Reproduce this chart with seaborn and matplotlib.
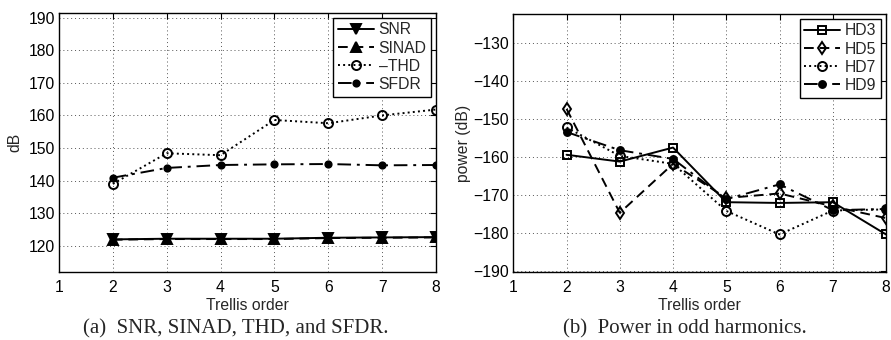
import matplotlib
matplotlib.use("Agg")
import matplotlib.pyplot as plt
import seaborn as sns

# Trellis orders
orders = [2, 3, 4, 5, 6, 7, 8]

# (a) dB metrics
snr = [122.0, 122.2, 122.2, 122.2, 122.5, 122.6, 122.7]
sinad = [121.9, 122.1, 122.1, 122.1, 122.4, 122.5, 122.6]
thd = [139.0, 148.4, 147.8, 158.6, 157.6, 160.0, 161.8]
sfdr = [140.9, 143.9, 144.8, 145.0, 145.1, 144.7, 144.8]

# (b) odd harmonic power
hd3 = [-159.4, -161.2, -157.5, -171.9, -172.1, -171.9, -180.4]
hd5 = [-147.3, -174.7, -161.8, -170.8, -169.6, -173.0, -176.1]
hd7 = [-152.2, -159.7, -161.8, -174.2, -180.4, -174.1, -173.8]
hd9 = [-153.4, -158.2, -160.5, -171.1, -167.2, -174.0, -173.7]

left_ticks = [120, 130, 140, 150, 160, 170, 180, 190]
right_ticks = [-190, -180, -170, -160, -150, -140, -130]
x_ticks = [1, 2, 3, 4, 5, 6, 7, 8]

sns.set_style("white")
plt.rcParams['font.family'] = ['Liberation Sans', 'DejaVu Sans']

FS = 11.3

fig = plt.figure(figsize=(8.91, 3.4), dpi=100)
ax1 = fig.add_axes([0.0662, 0.2, 0.4231, 0.7618])
ax2 = fig.add_axes([0.5761, 0.2, 0.4183, 0.7588])


def draw(ax, y, label, ls, marker, ms, filled):
    sns.lineplot(x=orders, y=y, ax=ax, color='k', linestyle=ls, linewidth=1.4,
                 marker=marker, markersize=ms,
                 markerfacecolor='k' if filled else 'none',
                 markeredgecolor='k', markeredgewidth=1.4, label=label)


draw(ax1, snr, 'SNR', '-', 'v', 6.5, True)
draw(ax1, sinad, 'SINAD', (0, (5, 3)), '^', 6.5, True)
draw(ax1, thd, '\u2013THD', ':', 'o', 6.5, False)
draw(ax1, sfdr, 'SFDR', (0, (7, 3, 1.5, 3)), 'o', 4.5, True)

draw(ax2, hd3, 'HD3', '-', 's', 5.5, False)
draw(ax2, hd5, 'HD5', (0, (5, 3)), 'd', 6.5, False)
draw(ax2, hd7, 'HD7', ':', 'o', 6.5, False)
draw(ax2, hd9, 'HD9', (0, (7, 3, 1.5, 3)), 'o', 5, True)

ax1.set_ylim(112, 191.4)
ax1.set_yticks(left_ticks)
ax1.set_ylabel('dB', fontsize=FS, labelpad=4)
ax2.set_ylim(-190.3, -122.3)
ax2.set_yticks(right_ticks)
ax2.set_yticklabels(['\u2212' + str(abs(t)) for t in right_ticks])
ax2.set_ylabel('power (dB)', fontsize=FS, labelpad=2)

for ax in (ax1, ax2):
    ax.set_xlim(1, 8)
    ax.set_xticks(x_ticks)
    ax.set_xlabel('Trellis order', fontsize=FS, labelpad=2)
    ax.grid(True, linestyle=(0, (1, 3)), color='#555555', linewidth=0.7)
    ax.tick_params(direction='in', length=4, width=0.8, labelsize=FS,
                   top=True, right=True, colors='k', pad=3)
    ax.tick_params(axis='x', pad=6)
    for s in ax.spines.values():
        s.set_color('k')
        s.set_linewidth(1.0)
    leg = ax.legend(loc='upper right', fontsize=FS, frameon=True, fancybox=False,
                    edgecolor='k', framealpha=1, borderaxespad=0.3,
                    handlelength=2.3, handletextpad=0.3, labelspacing=0.2,
                    borderpad=0.3)
    leg.get_frame().set_linewidth(1.0)

fig.text(0.265, 0.033, '(a)  SNR, SINAD, THD, and SFDR.', ha='center', va='center',
         fontsize=15, family='Liberation Serif')
fig.text(0.769, 0.033, '(b)  Power in odd harmonics.', ha='center', va='center',
         fontsize=15, family='Liberation Serif')

fig.savefig('out.png', dpi=100)
